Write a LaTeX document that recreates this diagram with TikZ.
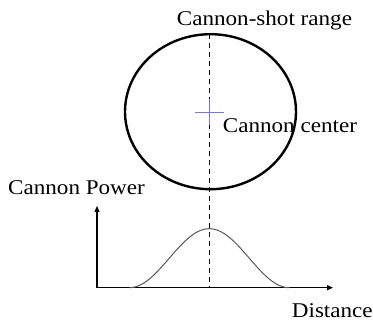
\documentclass[tikz,border=0pt]{standalone}
\usepackage{fontspec}
\setmainfont[FakeStretch=1.1]{Liberation Serif}
\usetikzlibrary{arrows.meta,shapes.geometric,calc}
\tikzset{
  lbl/.style={anchor=base west, inner sep=0pt, font=\fontsize{21}{24}\selectfont},
  axis/.style={line width=1.1pt, -{Triangle[length=6pt,width=5pt]}},
  rangecircle/.style={line width=2.4pt},
  guide/.style={line width=1.4pt, dash pattern=on 5pt off 4pt},
  bell/.style={line width=1pt, gray!70!black},
  cross/.style={line width=1pt, blue!55!white},
}
\begin{document}
\begin{tikzpicture}[x=1pt,y=-1pt]
\useasboundingbox (0,0) rectangle (373,321);
% range ellipse
\node[rangecircle, draw, ellipse, minimum width=171pt, minimum height=155pt, inner sep=0pt] (range) at (210.5,111.7) {};
% guide line
\coordinate (top) at (209.3,34);
\coordinate (origin) at (97,287.7);
\coordinate (base) at (209.3,287.7);
\draw[guide] (top) -- (base);
% center cross
\coordinate (cc) at (209.5,113);
\draw[cross] ($(cc)+(-14.5,0)$) -- ($(cc)+(14.5,0)$);
\draw[cross] ($(cc)+(0,-14)$) -- ($(cc)+(0,12)$);
% axes
\coordinate (ytip) at (97,206);
\coordinate (xtip) at (333,287.7);
\draw[axis] (origin) -- (ytip);
\draw[axis] (origin) -- (xtip);
% bell curve
\draw[bell] plot[domain=-80:80, samples=80, smooth] ({209.3+\x},{287.7-59*(1+cos(180*\x/80))/2});
% labels
\node[lbl] (lrange) at (176.7,26) {Cannon-shot range};
\node[lbl] (lcenter) at (222.7,133) {Cannon center};
\node[lbl] (lpower) at (8,195) {Cannon Power};
\node[lbl] (ldist) at (291.7,317) {Distance};
\end{tikzpicture}
\end{document}
